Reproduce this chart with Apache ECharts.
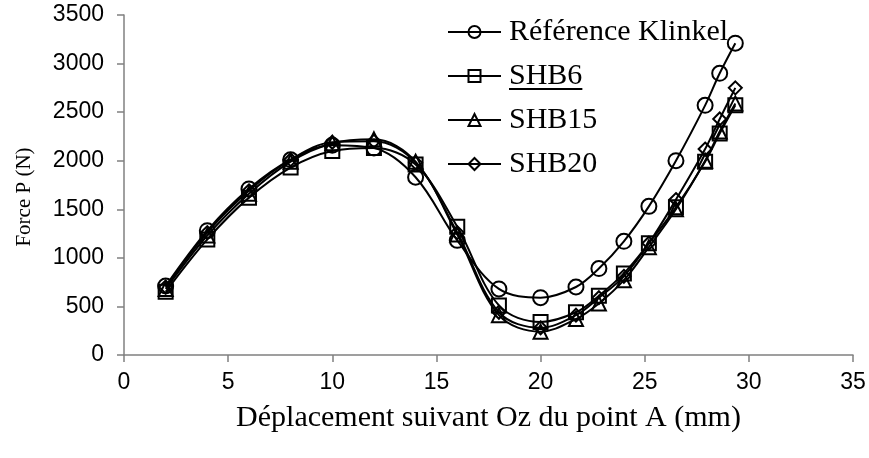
<!DOCTYPE html>
<html>
<head>
<meta charset="utf-8">
<script src="https://cdn.jsdelivr.net/npm/echarts@6/dist/echarts.min.js"></script>
<style>
  html, body { margin: 0; padding: 0; background: #fff; }
  #chart { width: 869px; height: 458px; }
</style>
</head>
<body>
<div id="chart"></div>
<script>
// Displacement of point A along Oz (mm)
const deplacement = [2, 4, 6, 8, 10, 12, 14, 16, 18, 20, 21.7, 22.8, 24, 25.2, 26.5, 27.9, 28.6, 29.35];

// Force P (N) for each model
const klinkel = [710, 1280, 1710, 2010, 2160, 2130, 1830, 1180, 680, 590, 700, 890, 1170, 1530, 2000, 2570, 2900, 3210];
const shb6    = [650, 1190, 1620, 1930, 2100, 2130, 1960, 1320, 510, 340, 440, 610, 840, 1150, 1520, 1990, 2280, 2570];
const shb15   = [680, 1230, 1660, 1990, 2180, 2220, 1990, 1240, 410, 240, 370, 530, 770, 1110, 1500, 2000, 2300, 2590];
const shb20   = [700, 1260, 1690, 2010, 2190, 2200, 1980, 1260, 440, 280, 410, 590, 810, 1150, 1600, 2120, 2430, 2750];

const seriesNames = ['Référence Klinkel', 'SHB6', 'SHB15', 'SHB20'];
const seriesValues = [klinkel, shb6, shb15, shb20];
const seriesSymbols = ['circle', 'rect', 'triangle', 'diamond'];
const symbolSizes = [15, 14, 14, 13];

const xTicks = { min: 0, max: 35, interval: 5 };
const yTicks = { min: 0, max: 3500, interval: 500 };

const chart = echarts.init(document.getElementById('chart'));

const series = seriesNames.map((name, i) => ({
  name: name,
  type: 'line',
  smooth: 0.35,
  data: deplacement.map((x, k) => [x, seriesValues[i][k]]),
  symbol: seriesSymbols[i],
  symbolSize: symbolSizes[i],
  showAllSymbol: true,
  lineStyle: { color: '#000', width: 2 },
  itemStyle: { color: 'rgba(255,255,255,0)', borderColor: '#000', borderWidth: 2 },
  emphasis: { disabled: true },
  z: 2 + i
}));

const plainNumber = v => String(v);

chart.setOption({
  animation: false,
  backgroundColor: '#fff',
  grid: { left: 124, right: 16, top: 15, bottom: 103, containLabel: false },
  legend: {
    orient: 'vertical',
    left: 447,
    top: 17,
    padding: 0,
    itemWidth: 53,
    itemHeight: 15,
    itemGap: 14,
    data: seriesNames,
    textStyle: {
      fontFamily: '"Liberation Serif", "Times New Roman", serif',
      fontSize: 30,
      color: '#000',
      padding: [0, 0, 0, 3]
    },
    inactiveColor: '#000'
  },
  xAxis: {
    type: 'value',
    min: xTicks.min,
    max: xTicks.max,
    interval: xTicks.interval,
    name: 'Déplacement suivant Oz du point A (mm)',
    nameLocation: 'middle',
    nameGap: 48,
    nameTextStyle: {
      fontFamily: '"Liberation Serif", "Times New Roman", serif',
      fontSize: 30,
      color: '#000'
    },
    axisLine: { show: true, lineStyle: { color: '#808080', width: 1.5 } },
    axisTick: { show: true, inside: false, length: 7, lineStyle: { color: '#808080', width: 1.5 } },
    axisLabel: {
      fontFamily: '"Liberation Sans", Arial, sans-serif',
      fontSize: 23,
      color: '#000',
      margin: 16,
      formatter: plainNumber
    },
    splitLine: { show: false }
  },
  yAxis: {
    type: 'value',
    min: yTicks.min,
    max: yTicks.max,
    interval: yTicks.interval,
    name: 'Force P (N)',
    nameLocation: 'middle',
    nameGap: 89,
    nameRotate: 90,
    nameTextStyle: {
      fontFamily: '"Liberation Serif", "Times New Roman", serif',
      fontSize: 21,
      color: '#000',
      padding: [0, 24, 0, 0]
    },
    axisLine: { show: true, lineStyle: { color: '#808080', width: 1.5 } },
    axisTick: { show: true, inside: false, length: 7, lineStyle: { color: '#808080', width: 1.5 } },
    axisLabel: {
      fontFamily: '"Liberation Sans", Arial, sans-serif',
      fontSize: 23,
      color: '#000',
      margin: 20,
      formatter: plainNumber
    },
    splitLine: { show: false }
  },
  series: series
});

// underline under the SHB6 legend entry
function drawUnderline() {
  const found = chart.getZr().storage.getDisplayList().filter(el => el.style && el.style.text === 'SHB6');
  const items = [];
  if (found.length) {
    const t = found[0];
    const r = t.getBoundingRect().clone();
    r.applyTransform(t.getComputedTransform ? t.getComputedTransform() : t.transform);
    items.push({
      type: 'rect',
      shape: { x: r.x, y: r.y + r.height - 3, width: r.width, height: 2 },
      style: { fill: '#000' },
      silent: true
    });
  }
  chart.setOption({ graphic: items });
}
drawUnderline();
</script>
</body>
</html>
